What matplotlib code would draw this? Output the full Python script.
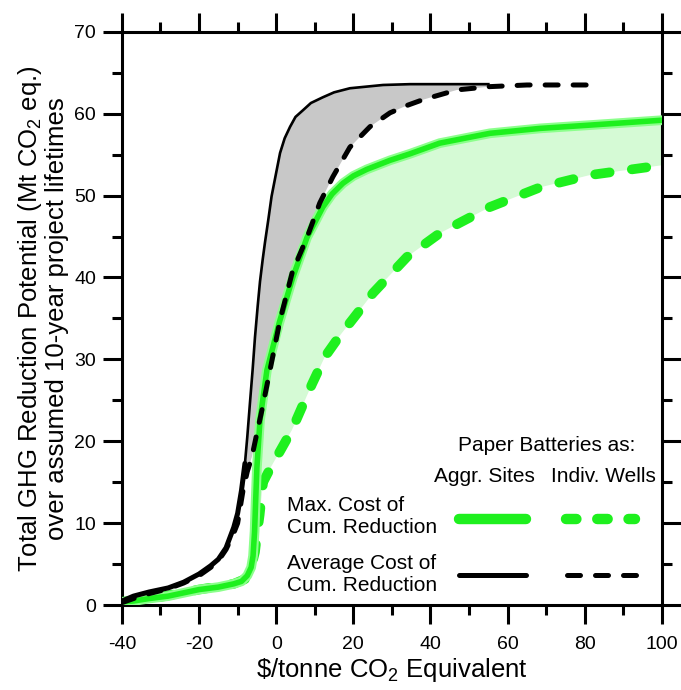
import numpy as np
import matplotlib.pyplot as plt
from matplotlib.ticker import MultipleLocator

plt.rcParams['font.family'] = ['Liberation Sans', 'DejaVu Sans']
plt.rcParams['mathtext.fontset'] = 'custom'
plt.rcParams['mathtext.rm'] = 'Liberation Sans'
plt.rcParams['mathtext.it'] = 'Liberation Sans:italic'
plt.rcParams['axes.unicode_minus'] = False

# Average cost of cumulative reduction, paper batteries as aggregated sites (solid black)
avg_aggr_x = [-40, -37, -33, -28, -24, -20, -17, -15, -13, -11, -10, -9, -8.1, -7.5, -6.8, -6.1,
              -5.5, -4.8, -4.2, -3.5, -2.9, -2.0, -1.2, 0, 1.0, 2.2, 3.6, 5, 6.9, 9, 12.1, 15, 19.1,
              27.7, 34.7, 45, 55]
avg_aggr_y = [0.5, 1.1, 1.6, 2.1, 2.8, 3.8, 4.8, 5.6, 7.0, 9.5, 11.2, 14, 17.3, 20.5, 24.7, 28.8,
              32.7, 36.5, 39.5, 42.2, 44.3, 47.2, 49.9, 52.8, 55.2, 57, 58.4, 59.6, 60.4, 61.3, 62.0, 62.6, 63.1,
              63.5, 63.6, 63.6, 63.6]

# Average cost, paper batteries as individual wells (dashed black)
avg_wells_x = [-40, -37, -33, -28, -24, -20, -17, -15, -13, -11, -10, -8.6, -7.5, -6.3, -5, -3.7,
               -1.6, 1.0, 4.2, 8.0, 11.3, 14.7, 19.1, 24.3, 29.5, 33.9, 38, 46.9, 55.4, 65, 80.6]
avg_wells_y = [0.3, 0.8, 1.4, 2.0, 2.7, 3.6, 4.6, 5.4, 6.8, 8.8, 10, 14, 16.3, 18.1, 21, 23.8,
               28.7, 34.8, 40.7, 44.9, 49.1, 52.3, 55.9, 58.4, 60.1, 61.0, 61.7, 62.9, 63.3, 63.5, 63.5]

# Max cost of cumulative reduction, aggregated sites (solid green)
max_aggr_x = [-40, -37, -33, -28, -24, -20, -15, -11, -9, -7.5, -6.5, -6, -5.6, -5.3, -5.0, -4.2,
              -2.4, 0.8, 4.3, 8.0, 12.1, 14.5, 17.3, 20, 23.5, 29.5, 34.7, 42.4, 55.4, 68.4, 81.3, 100]
max_aggr_y = [0.4, 0.5, 0.8, 1.1, 1.5, 1.9, 2.2, 2.6, 2.9, 3.6, 4.6, 6, 9, 13, 16.8, 22.6,
              28.7, 34.5, 40.0, 44.9, 48.6, 50.2, 51.5, 52.4, 53.2, 54.3, 55.1, 56.4, 57.6, 58.2, 58.6, 59.2]

# Max cost, individual wells (dashed green)
max_wells_x = [-40, -30, -20, -11, -8, -6.5, -5.5, -5, -4.3, -3.4, -1.2, 1.0, 4.1, 6.7, 9.3, 12.6,
               16.5, 20, 25.1, 33.9, 42.4, 55.4, 68.4, 81.3, 100]
max_wells_y = [0.4, 1.0, 1.9, 2.6, 3.2, 4.6, 6.5, 8.5, 11, 15, 17, 18.8, 21.4, 24.2, 27.0, 30.3,
               32.9, 35, 38.1, 42.5, 45.4, 48.6, 51.0, 52.5, 53.7]

green = '#1ef01e'
light_green = '#d5fad5'
gray = '#c8c8c8'

fig = plt.figure(figsize=(6.81, 6.90), dpi=100)
ax = fig.add_axes([0.179, 0.123, 0.793, 0.831])

ax1x, ax1y = np.array(avg_aggr_x), np.array(avg_aggr_y)
ax2x, ax2y = np.array(avg_wells_x), np.array(avg_wells_y)
m1x, m1y = np.array(max_aggr_x), np.array(max_aggr_y)
m2x, m2y = np.array(max_wells_x), np.array(max_wells_y)

# shaded bands between aggregated and individual-well curves
keep = ax2x <= ax1x.max() + 0.5
ax.fill(np.concatenate([ax1x, ax2x[keep][::-1]]), np.concatenate([ax1y, ax2y[keep][::-1]]),
        color=gray, lw=0, zorder=1)
ax.fill(np.concatenate([m1x, m2x[::-1]]), np.concatenate([m1y, m2y[::-1]]),
        color=light_green, lw=0, zorder=1)

# curves
ax.plot(m2x, m2y, color=green, lw=7, dashes=(1.5, 2.3), dash_capstyle='round', zorder=3)
ax.plot(m1x, m1y, color='#8cff8c', lw=7, solid_capstyle='round', zorder=4)
ax.plot(m1x, m1y, color=green, lw=4, solid_capstyle='round', zorder=4)
ax.plot(ax2x, ax2y, color='black', lw=3.6, dashes=(2.6, 3.0), dash_capstyle='round', zorder=5)
ax.plot(ax1x, ax1y, color='black', lw=1.9, zorder=5)
low = ax1y <= 18
ax.plot(ax1x[low], ax1y[low], color='black', lw=3.6, solid_capstyle='round', zorder=5)

# legend drawn by hand
fs = 15
ax.text(0.787, 0.279, 'Paper Batteries as:', transform=ax.transAxes, ha='center', va='center', fontsize=fs)
ax.text(0.672, 0.224, 'Aggr. Sites', transform=ax.transAxes, ha='center', va='center', fontsize=fs)
ax.text(0.891, 0.224, 'Indiv. Wells', transform=ax.transAxes, ha='center', va='center', fontsize=fs)
ax.text(0.306, 0.154, 'Max. Cost of\nCum. Reduction', transform=ax.transAxes, ha='left', va='center',
        fontsize=fs, linespacing=1.2)
ax.text(0.306, 0.054, 'Average Cost of\nCum. Reduction', transform=ax.transAxes, ha='left', va='center',
        fontsize=fs, linespacing=1.2)
ax.plot([0.625, 0.748], [0.151, 0.151], transform=ax.transAxes, color=green, lw=7.5, solid_capstyle='round')
ax.plot([0.822, 0.950], [0.151, 0.151], transform=ax.transAxes, color=green, lw=7.5,
        dashes=(1.0, 2.0), dash_capstyle='round')
ax.plot([0.625, 0.748], [0.053, 0.053], transform=ax.transAxes, color='black', lw=3.6, solid_capstyle='round')
ax.plot([0.824, 0.952], [0.053, 0.053], transform=ax.transAxes, color='black', lw=3.6,
        dashes=(2.6, 3.0), dash_capstyle='round')

ax.set_xlim(-40, 100)
ax.set_ylim(0, 70)
ax.xaxis.set_major_locator(MultipleLocator(20))
ax.xaxis.set_minor_locator(MultipleLocator(10))
ax.yaxis.set_major_locator(MultipleLocator(10))
ax.yaxis.set_minor_locator(MultipleLocator(5))
ax.tick_params(which='both', direction='out', top=True, right=True, width=2.2, labelsize=14)
ax.tick_params(which='major', length=13.5)
ax.tick_params(which='minor', length=7)
ax.tick_params(axis='x', which='major', pad=9)
ax.tick_params(axis='y', which='major', pad=5)
for s in ax.spines.values():
    s.set_linewidth(2.2)

ax.set_xlabel(r'\$/tonne CO$_2$ Equivalent', fontsize=18.5, labelpad=2)
ax.set_ylabel('Total GHG Reduction Potential (Mt CO$_2$ eq.)\nover assumed 10-year project lifetimes',
              fontsize=18.5, labelpad=4, linespacing=1.05)

fig.savefig('out.png', dpi=100)
